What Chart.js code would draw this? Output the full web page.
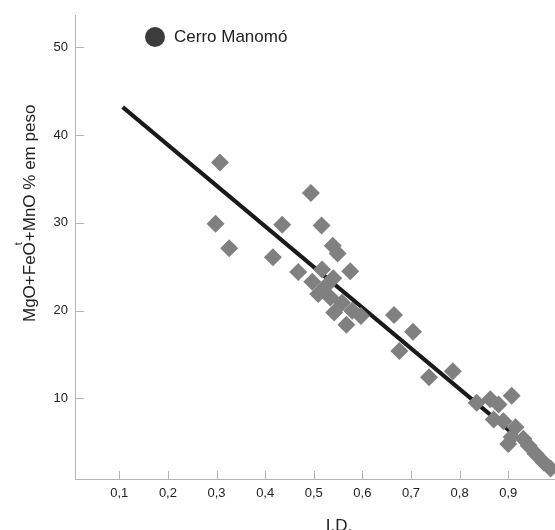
<!DOCTYPE html>
<html>
<head>
<meta charset="utf-8">
<title>Cerro Manomó - I.D. x MgO+FeOt+MnO</title>
<script src="https://cdn.jsdelivr.net/npm/chart.js@4.4.1/dist/chart.umd.min.js"></script>
<style>
  html, body { margin: 0; padding: 0; background: #fff; }
  canvas { display: block; }
</style>
</head>
<body>
<canvas id="chart" width="555" height="530"></canvas>
<script>
// Data
const ID_VALUES = [
  0.307, 0.298, 0.326, 0.416, 0.435, 0.468, 0.494, 0.516, 0.539, 0.549,
  0.575, 0.517, 0.497, 0.540, 0.509, 0.534, 0.558, 0.542, 0.579, 0.567,
  0.597, 0.525, 0.665, 0.704, 0.676, 0.737, 0.786, 0.835, 0.863, 0.880,
  0.907, 0.870, 0.890, 0.915, 0.907, 0.900, 0.931, 0.942, 0.956, 0.973, 0.987
];
const OXIDE_VALUES = [
  36.9, 29.9, 27.1, 26.1, 29.8, 24.4, 33.4, 29.7, 27.4, 26.5,
  24.5, 24.7, 23.3, 23.7, 21.9, 21.5, 20.9, 19.8, 20.0, 18.4,
  19.4, 22.8, 19.5, 17.6, 15.4, 12.4, 13.1, 9.5, 9.9, 9.3,
  10.3, 7.6, 7.4, 6.7, 5.6, 4.8, 5.4, 4.6, 3.7, 2.7, 2.0
];
const TREND_ID = [0.107, 0.92];
const TREND_OXIDE = [43.2, 5.5];

const X_TICKS = [0.1, 0.2, 0.3, 0.4, 0.5, 0.6, 0.7, 0.8, 0.9];
const Y_TICKS = [10, 20, 30, 40, 50];

const SERIES_LABEL = 'Cerro Manomó';
const X_TITLE = 'I.D.';
const Y_TITLE = ['MgO+FeO', 't', '+MnO % em peso'];

const FONT = "'Liberation Sans', Arial, sans-serif";
const TEXT = '#222222';
const AXIS = '#b4b4b4';

const points = ID_VALUES.map((x, i) => ({ x: x, y: OXIDE_VALUES[i] }));
const trend = TREND_ID.map((x, i) => ({ x: x, y: TREND_OXIDE[i] }));

// inward tick marks, axis titles and the legend
const decor = {
  id: 'decor',
  afterDraw(chart) {
    const ctx = chart.ctx;
    const xs = chart.scales.x;
    const ys = chart.scales.y;
    const area = chart.chartArea;

    ctx.save();
    ctx.strokeStyle = AXIS;
    ctx.lineWidth = 1;
    ctx.beginPath();
    X_TICKS.forEach(v => {
      const px = Math.round(xs.getPixelForValue(v)) + 0.5;
      ctx.moveTo(px, area.bottom);
      ctx.lineTo(px, area.bottom - 8);
    });
    Y_TICKS.forEach(v => {
      const py = Math.round(ys.getPixelForValue(v)) + 0.5;
      ctx.moveTo(area.left, py);
      ctx.lineTo(area.left + 9, py);
    });
    ctx.stroke();

    // x title
    ctx.fillStyle = TEXT;
    ctx.font = '17px ' + FONT;
    ctx.textAlign = 'center';
    ctx.textBaseline = 'alphabetic';
    ctx.fillText(X_TITLE, 339, 531);

    // y title with superscript t
    ctx.translate(35, 322);
    ctx.rotate(-Math.PI / 2);
    ctx.textAlign = 'left';
    ctx.font = '17px ' + FONT;
    let pos = 0;
    ctx.fillText(Y_TITLE[0], pos, 0);
    pos += ctx.measureText(Y_TITLE[0]).width;
    ctx.font = '11px ' + FONT;
    ctx.fillText(Y_TITLE[1], pos - 3, -13);
    ctx.font = '17px ' + FONT;
    ctx.fillText(Y_TITLE[2], pos + 1, 0);
    ctx.setTransform(1, 0, 0, 1, 0, 0);

    // legend
    ctx.fillStyle = '#3c3c3c';
    ctx.beginPath();
    ctx.arc(155, 37, 10, 0, Math.PI * 2);
    ctx.fill();
    ctx.fillStyle = TEXT;
    ctx.font = '17px ' + FONT;
    ctx.textAlign = 'left';
    ctx.textBaseline = 'middle';
    ctx.fillText(SERIES_LABEL, 174, 37);
    ctx.restore();
  }
};

new Chart(document.getElementById('chart'), {
  type: 'scatter',
  data: {
    datasets: [
      {
        label: SERIES_LABEL,
        data: points,
        pointStyle: 'rectRot',
        pointRadius: 9,
        pointHoverRadius: 9,
        backgroundColor: '#808080',
        borderWidth: 0,
        order: 1
      },
      {
        label: 'trend',
        data: trend,
        showLine: true,
        borderColor: '#1a1a1a',
        borderWidth: 4,
        pointRadius: 0,
        pointHoverRadius: 0,
        fill: false,
        order: 2
      }
    ]
  },
  options: {
    responsive: false,
    animation: false,
    events: [],
    layout: { autoPadding: false, padding: { top: 15, right: 0, bottom: 0, left: 0 } },
    plugins: {
      legend: { display: false },
      tooltip: { enabled: false }
    },
    scales: {
      x: {
        type: 'linear',
        min: 0.0089,
        max: 0.9961,
        grid: { display: false, drawTicks: false },
        border: { display: true, color: AXIS, width: 1 },
        ticks: {
          padding: 7,
          color: TEXT,
          autoSkip: false,
          maxRotation: 0,
          font: { family: FONT, size: 13 },
          callback: v => v.toFixed(1).replace('.', ',')
        },
        afterBuildTicks: s => { s.ticks = X_TICKS.map(v => ({ value: v })); },
        afterFit: s => {
          s.height = 51;
          s.paddingLeft = 0;
          s.paddingRight = 0;
        }
      },
      y: {
        type: 'linear',
        min: 0.81,
        max: 53.7,
        grid: { display: false, drawTicks: false },
        border: { display: true, color: AXIS, width: 1 },
        ticks: {
          padding: 7,
          color: TEXT,
          font: { family: FONT, size: 13 }
        },
        afterBuildTicks: s => { s.ticks = Y_TICKS.map(v => ({ value: v })); },
        afterFit: s => {
          s.width = 75;
          s.paddingTop = 0;
          s.paddingBottom = 0;
        }
      }
    }
  },
  plugins: [decor]
});
</script>
</body>
</html>
